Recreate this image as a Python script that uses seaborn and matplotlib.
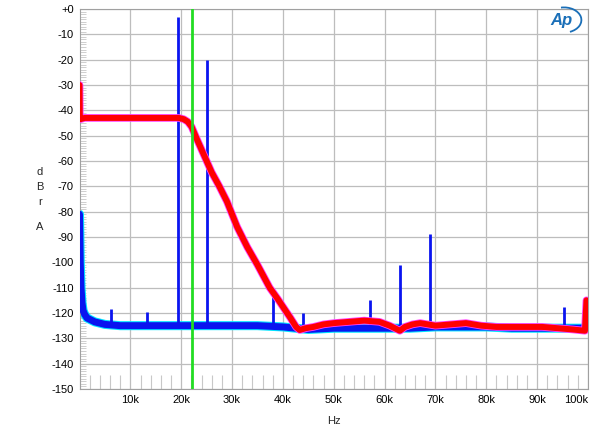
import matplotlib
matplotlib.use("Agg")
import matplotlib.pyplot as plt
from matplotlib.patches import Arc
from matplotlib.ticker import MultipleLocator
import pandas as pd
import seaborn as sns

# red trace (noise) : Hz / dBrA
red_freq = [0, 60, 150, 1000, 3000, 6000, 9000, 12000, 15000, 18000, 19500, 20500,
            21300, 22050, 23000, 24000, 25000, 26000, 27500, 29000, 31000, 33000,
            35000, 37400, 39000, 40000, 41500, 42600, 43300, 44500, 46000,
            48000, 50000, 53000, 56000, 59000, 61000, 63000, 64000, 65500, 67000,
            70000, 73000, 76000, 79000, 82000, 85000, 88000, 91000, 94000, 97000,
            99400, 99700]
red_level = [-30, -43, -43.5, -43, -43, -43, -43, -43, -43, -43, -43, -43.5,
             -44.5, -46.5, -51, -55.5, -60, -64.5, -70, -76, -86, -94,
             -101, -110, -114.5, -117.5, -122, -125.5, -126.7, -126, -125.5,
             -124.5, -124, -123.5, -123, -123.5, -125, -127, -125.5, -124.5, -124,
             -125, -124.5, -124, -125, -125.5, -125.5, -125.5, -125.5, -126, -126.5,
             -127, -115]

# blue trace (noise floor)
blue_freq = [0, 150, 300, 500, 700, 1000, 1500, 3000, 5000, 8000, 12000, 16000,
             20000, 25000, 30000, 35000, 40000, 45000, 50000, 55000, 60000, 65000,
             70000, 75000, 80000, 85000, 90000, 95000, 99700]
blue_level = [-81, -100, -110, -116, -119, -120.5, -122, -123.5, -124.5, -125, -125, -125,
              -125, -125, -125, -125, -125.5, -126.5, -126, -126, -126, -126,
              -125.5, -125.5, -125.5, -126, -126, -126, -126]

# blue spurs
spur_freq = [6100, 13300, 19400, 25100, 38100, 43900, 57200, 63100, 69000, 95300]
spur_level = [-118.5, -119.5, -3, -20, -112, -120, -115, -101, -89, -117.5]

green_freq = 22050

y_ticks = list(range(0, -151, -10))
x_ticks = list(range(10000, 100001, 10000))

sns.set_style("white")
plt.rcParams['font.family'] = ['Liberation Sans', 'DejaVu Sans']

fig = plt.figure(figsize=(6, 4.34), dpi=100)
ax = fig.add_axes([79.5 / 600, 1 - 389 / 434, 508.5 / 600, 380 / 434])

red = pd.DataFrame({"Hz": red_freq, "dB": red_level})
blue = pd.DataFrame({"Hz": blue_freq, "dB": blue_level})

sns.lineplot(data=blue, x="Hz", y="dB", color="#00e5ff", lw=6.5, ax=ax, zorder=2)
sns.lineplot(data=blue, x="Hz", y="dB", color="#0a14f0", lw=5, ax=ax, zorder=3)
ax.vlines(spur_freq, -125, spur_level, color="#0a14f0", lw=2, zorder=3)
sns.lineplot(data=red, x="Hz", y="dB", color="#ff40ff", lw=5.5, ax=ax, zorder=4)
sns.lineplot(data=red, x="Hz", y="dB", color="#ff0000", lw=4.3, ax=ax, zorder=5)
ax.axvline(green_freq, color="#22dd22", lw=2, zorder=6)

ax.set_xlim(0, 99800)
ax.set_ylim(-150, 0)
ax.set_xticks(x_ticks)
ax.set_xticklabels([f"{int(t / 1000)}k" for t in x_ticks])
ax.set_yticks(y_ticks)
ax.set_yticklabels(["+0"] + [str(t) for t in y_ticks[1:]])
ax.xaxis.set_minor_locator(MultipleLocator(2000))
ax.yaxis.set_minor_locator(MultipleLocator(1))
ax.tick_params(axis="both", which="major", length=0, labelsize=8, pad=4, colors="black")
ax.tick_params(axis="x", which="minor", direction="in", length=10, width=0.8,
               color="#c8c8c8", bottom=True)
ax.tick_params(axis="y", which="minor", direction="in", length=4, width=0.6,
               color="#c8c8c8", left=True)
ax.xaxis.get_majorticklabels()[-1].set_horizontalalignment("right")
ax.grid(True, which="major", color="#bdbdbd", lw=0.9)
for s in ax.spines.values():
    s.set_color("#a0a0a0")
    s.set_linewidth(0.8)

ax.set_xlabel("Hz", fontsize=8, labelpad=8)
ax.set_ylabel("")
for ch, yp in zip(["d", "B", "r", "A"], [172, 187, 202, 227]):
    fig.text(40 / 600, 1 - yp / 434, ch, fontsize=8, ha="center", va="center")

# AP logo
fig.text(561 / 600, 1 - 21 / 434, "Ap", fontsize=12, style="italic", fontweight="bold",
         color="#1a6fb8", ha="center", va="center")
fig.patches.append(Arc((564 / 600, 1 - 20 / 434), 0.058, 0.058, theta1=-70, theta2=100,
                       color="#1a6fb8", lw=1.3, transform=fig.transFigure, figure=fig))

fig.savefig("out.png", dpi=100)
